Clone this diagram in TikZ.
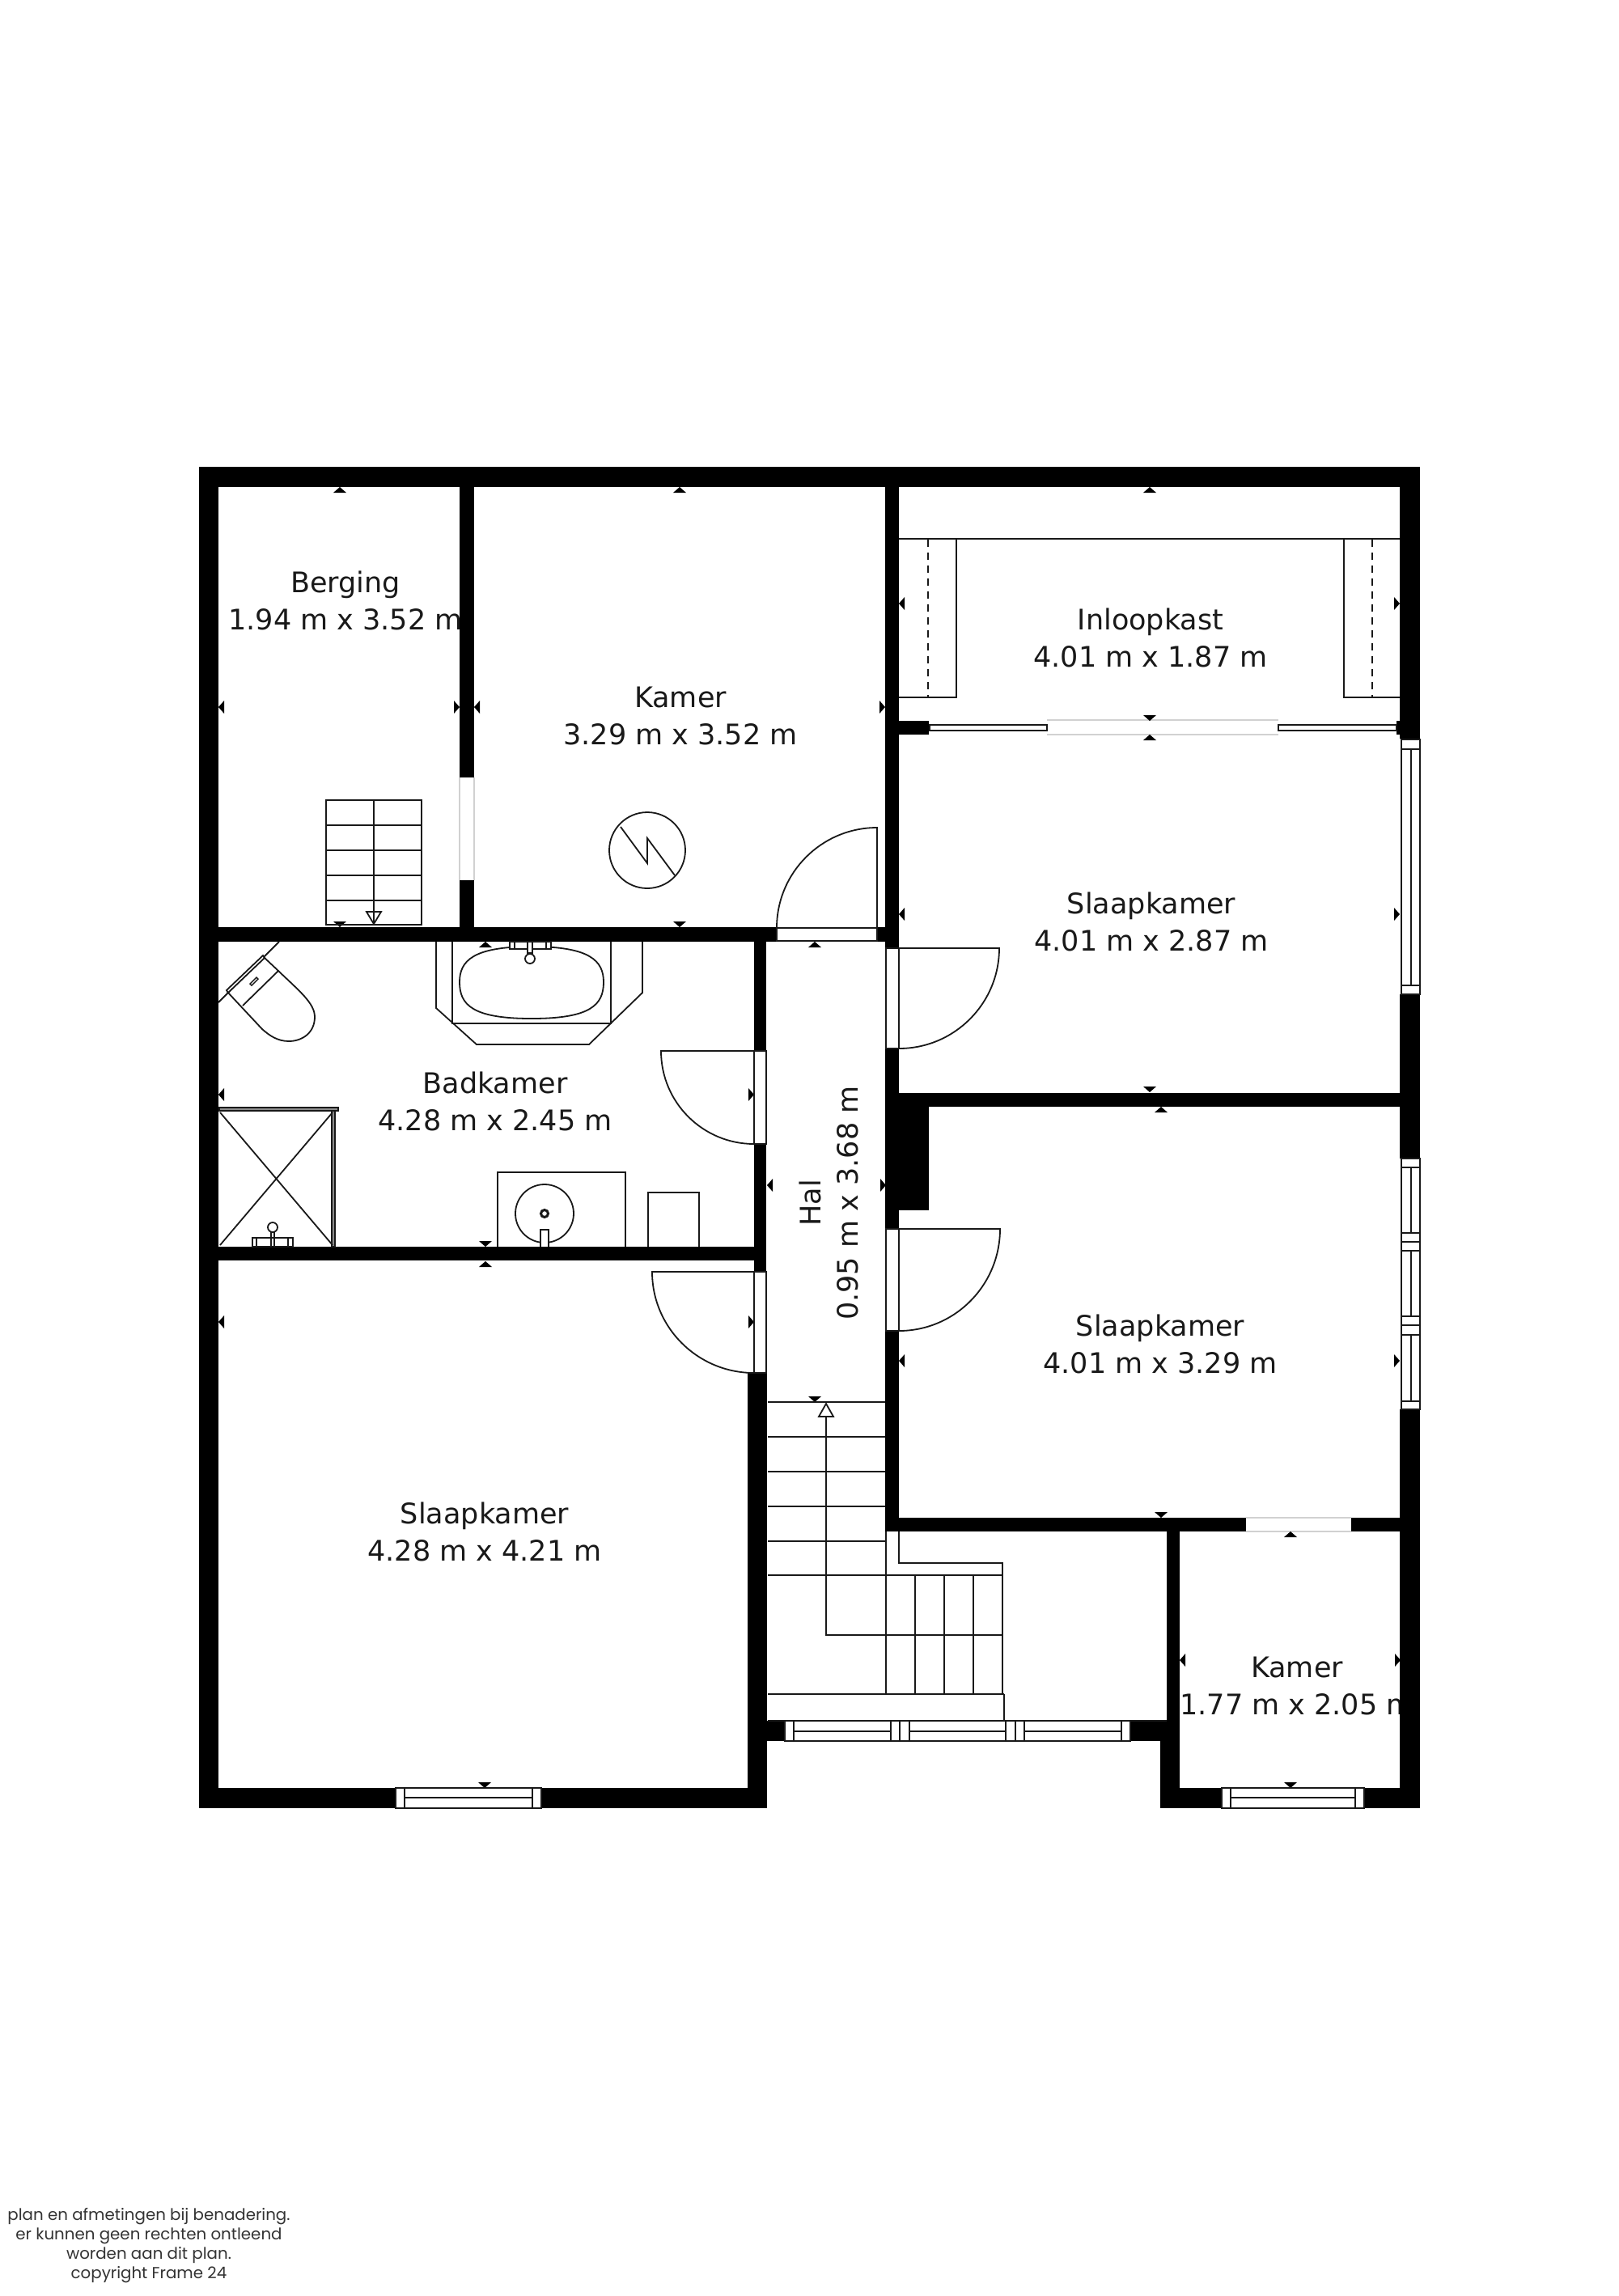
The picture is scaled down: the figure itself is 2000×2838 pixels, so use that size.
\documentclass[tikz,border=0pt]{standalone}
\usepackage{fontspec}
\setmainfont{DejaVu Sans}
\newfontfamily\notefont{Poppins}
\usetikzlibrary{calc}
\definecolor{gapgray}{gray}{0.82}
\newcommand{\doorswing}[3]{%
  \coordinate (dh) at (#1); \coordinate (da) at (#2); \coordinate (db) at (#3);
  \coordinate (dc) at ($(da)+(db)-(dh)$);
  \draw[planline] (dh) -- (da) .. controls ($(da)!.5523!(dc)$) and ($(db)!.5523!(dc)$) .. (db);}
\tikzset{
  wall/.style={fill=black},
  planline/.style={draw=black!90,line width=1.8pt},
  openbox/.style={draw=black!90,line width=1.8pt,fill=white},
  gapline/.style={draw=gapgray,line width=1.5pt},
  roomlabel/.style={align=center,inner sep=0pt,text=black!90,font=\fontsize{35}{46}\selectfont}
}
\begin{document}
\begin{tikzpicture}[x=1pt,y=-1pt]
  \useasboundingbox[fill=white] (0,0) rectangle (2000,2838);
  % room labels, under the walls
  \node[roomlabel] (berging) at (427,742) {Berging\\1.94 m x 3.52 m};
  \node[roomlabel] (kamerA) at (841,885) {Kamer\\3.29 m x 3.52 m};
  \node[roomlabel] (inloopkast) at (1422,788) {Inloopkast\\4.01 m x 1.87 m};
  \node[roomlabel] (slaapA) at (1423,1139) {Slaapkamer\\4.01 m x 2.87 m};
  \node[roomlabel] (badkamer) at (612,1361) {Badkamer\\4.28 m x 2.45 m};
  \node[roomlabel,rotate=90] (hal) at (1024,1487) {Hal\\0.95 m x 3.68 m};
  \node[roomlabel] (slaapB) at (1434,1661) {Slaapkamer\\4.01 m x 3.29 m};
  \node[roomlabel] (slaapC) at (599,1893) {Slaapkamer\\4.28 m x 4.21 m};
  \node[roomlabel] (kamerB) at (1603,2084) {Kamer\\1.77 m x 2.05 m};
  \node[align=center,inner sep=0pt,text=black!80,font=\notefont\fontsize{19.8}{24}\selectfont] (note) at (184,2776)
    {plan en afmetingen bij benadering.\\er kunnen geen rechten ontleend\\worden aan dit plan.\\copyright Frame 24};
  % walls
  \foreach \xa/\ya/\xb/\yb in {246/577/1755/602, 246/577/270/2235, 568/602/586/961, 568/1088/586/1146,
      246/1146/960/1164, 1084/1146/1111/1164, 1094/602/1111/1172, 1094/891/1148/908, 1726/891/1730/908,
      1730/602/1755/913, 1730/1229/1755/1432, 1730/1742/1755/2235, 1094/1296/1111/1519, 1094/1645/1111/1893,
      1094/1351/1755/1368, 1111/1368/1148/1496, 1094/1876/1540/1893, 1670/1876/1755/1893,
      932/1164/947/1299, 932/1414/947/1572, 924/1697/948/2235, 270/1541/947/1558,
      246/2210/489/2235, 669/2210/948/2235, 1442/1893/1458/2127, 1434/2127/1458/2235,
      948/2127/970/2152, 1397/2127/1442/2152, 1434/2210/1510/2235, 1686/2210/1755/2235}
    \fill[wall] (\xa,\ya) rectangle (\xb,\yb);
  % openings without a door
  \draw[gapline] (568,961) -- (568,1088) (586,961) -- (586,1088);
  \draw[gapline] (1294,890) -- (1580,890) (1294,908) -- (1580,908);
  \draw[gapline] (1540,1876) -- (1670,1876) (1540,1893) -- (1670,1893);
  % dimension ticks
  \foreach \x/\y in {420/602, 840/602, 1421/602, 1421/908, 600/1164, 1007/1164, 600/1559, 1435/1368, 1595/1893}
    \fill (\x,\y) -- ++(-8,7) -- ++(16,0) -- cycle;
  \foreach \x/\y in {420/1146, 840/1146, 1421/891, 1421/1350, 600/1541, 1007/1733, 1435/1876, 1595/2210, 599/2210}
    \fill (\x,\y) -- ++(-8,-7) -- ++(16,0) -- cycle;
  \foreach \x/\y in {270/874, 586/874, 1111/746, 1111/1130, 270/1353, 270/1634, 948/1465, 1111/1682, 1458/2052}
    \fill (\x,\y) -- ++(7,-8) -- ++(0,16) -- cycle;
  \foreach \x/\y in {568/874, 1094/874, 1730/746, 1730/1130, 932/1353, 1095/1465, 932/1634, 1730/1682, 1731/2052}
    \fill (\x,\y) -- ++(-7,-8) -- ++(0,16) -- cycle;
  % doors
  \draw[openbox] (960,1147) rectangle (1084,1163);
  \doorswing{1084,1147}{1084,1023}{960,1147}
  \draw[openbox] (1095,1172) rectangle (1111,1296);
  \doorswing{1111,1172}{1235,1172}{1111,1296}
  \draw[openbox] (1095,1519) rectangle (1111,1645);
  \doorswing{1111,1519}{1236,1519}{1111,1645}
  \draw[openbox] (932,1299) rectangle (947,1414);
  \doorswing{932,1299}{817,1299}{932,1414}
  \draw[openbox] (932,1572) rectangle (947,1697);
  \doorswing{932,1572}{806,1572}{932,1697}
  % sliding doors and closets
  \draw[openbox] (1149,896) rectangle (1294,903);
  \draw[openbox] (1580,896) rectangle (1726,903);
  \draw[planline] (1111,666) -- (1730,666);
  \draw[planline] (1111,862) -- (1182,862) -- (1182,667);
  \draw[planline] (1730,862) -- (1661,862) -- (1661,667);
  \draw[planline,dashed,dash pattern=on 9pt off 7pt] (1147,667) -- (1147,862) (1696,667) -- (1696,862);
  % windows
  \foreach \ya/\yb in {914/1229, 1432/1742} {
    \draw[openbox] (1732,\ya) rectangle (1755,\yb);
    \draw[planline] (1744,\ya) -- (1744,\yb);
  }
  \foreach \ya/\yb in {914/926, 1218/1229, 1432/1443, 1524/1535, 1535/1546, 1627/1638, 1638/1650, 1732/1742}
    \draw[openbox] (1732,\ya) rectangle (1755,\yb);
  \foreach \xa/\xb/\ya/\yb/\ym in {489/669/2210/2235/2222, 1510/1686/2210/2235/2222, 970/1397/2127/2152/2140} {
    \draw[openbox] (\xa,\ya) rectangle (\xb,\yb);
    \draw[planline] (\xa,\ym) -- (\xb,\ym);
  }
  \foreach \xa/\xb in {489/500, 658/669, 1510/1521, 1675/1686}
    \draw[openbox] (\xa,2210) rectangle (\xb,2235);
  \foreach \xa/\xb in {970/981, 1101/1112, 1112/1124, 1243/1255, 1255/1266, 1386/1397}
    \draw[openbox] (\xa,2127) rectangle (\xb,2152);
  % stairs
  \draw[planline] (403,1143) rectangle (521,989) (462,989) -- (462,1143);
  \foreach \y in {1020,1051,1082,1113}
    \draw[planline] (403,\y) -- (521,\y);
  \draw[planline] (453,1127) -- (471,1127) -- (462,1142) -- cycle;
  \foreach \y in {1733,1776,1819,1862,1905}
    \draw[planline] (949,\y) -- (1094,\y);
  \draw[planline] (949,1947) -- (1239,1947) (949,2094) -- (1241,2094) (949,2127) -- (1442,2127);
  \draw[planline] (1021,1751) -- (1021,2021) -- (1239,2021);
  \draw[planline] (1012,1751) -- (1030,1751) -- (1021,1735) -- cycle;
  \draw[planline] (1095,1893) -- (1095,2094) (1111,1893) -- (1111,1932) -- (1239,1932) -- (1239,2094);
  \draw[planline] (1241,2094) -- (1241,2127);
  \foreach \x in {1131,1167,1203}
    \draw[planline] (\x,1947) -- (\x,2094);
  % meter cupboard
  \draw[planline] (800,1051) circle (47);
  \draw[planline] (767,1022) -- (800,1067) -- (800,1036) -- (834,1082);
  % toilet
  \draw[planline] (345,1164) -- (270,1239);
  \draw[planline,fill=white] (325,1181) -- (280,1224) -- (282,1227) -- (327,1184) -- cycle;
  \draw[planline] (326,1183) -- (344,1200) .. controls (370,1225) and (389,1240) .. (389,1257)
    .. controls (389,1277) and (373,1287) .. (357,1287) .. controls (343,1287) and (333,1280) .. (324,1272) -- (281,1226);
  \draw[planline] (344,1200) -- (300,1243);
  \draw[planline,line width=1.4pt] (309,1216) -- (317,1208) -- (319,1210) -- (311,1218) -- cycle;
  % bath
  \draw[planline] (539,1164) -- (539,1246) -- (589,1291) -- (728,1291) -- (794,1227) -- (794,1164);
  \draw[planline] (559,1164) -- (559,1265) -- (755,1265) -- (755,1164);
  \draw[planline] (657,1170) .. controls (584,1170) and (568,1188) .. (568,1214)
    .. controls (568,1242) and (584,1259) .. (657,1259) .. controls (730,1259) and (746,1242) .. (746,1214)
    .. controls (746,1188) and (730,1170) .. (657,1170);
  \draw[planline,fill=white] (630,1164) rectangle (681,1173);
  \draw[planline,line width=1.2pt] (636,1164) -- (636,1173) (675,1164) -- (675,1173);
  \draw[planline,fill=white] (652,1164) rectangle (658,1178);
  \draw[planline,fill=white] (655,1185) circle (6);
  % shower
  \draw[planline,fill=black!45] (271,1369) rectangle (418,1373);
  \draw[planline,fill=black!45] (410,1373) rectangle (414,1541);
  \draw[planline] (272,1375) -- (411,1539) (411,1375) -- (272,1539);
  \draw[planline,fill=white] (312,1530) rectangle (362,1541);
  \draw[planline,line width=1.2pt] (317,1530) -- (317,1541) (356,1530) -- (356,1541);
  \draw[planline] (335,1522) -- (335,1541) (339,1522) -- (339,1541);
  \draw[planline,fill=white] (337,1517) circle (6);
  % washbasin and cabinet
  \draw[planline] (615,1541) -- (615,1449) -- (773,1449) -- (773,1541);
  \draw[planline] (673,1500) circle (36);
  \draw[planline,line width=3pt] (673,1500) circle (4.5);
  \draw[planline,fill=white] (668,1541) -- (668,1520) -- (678,1520) -- (678,1541);
  \draw[planline] (801,1541) -- (801,1474) -- (864,1474) -- (864,1541);
\end{tikzpicture}
\end{document}
